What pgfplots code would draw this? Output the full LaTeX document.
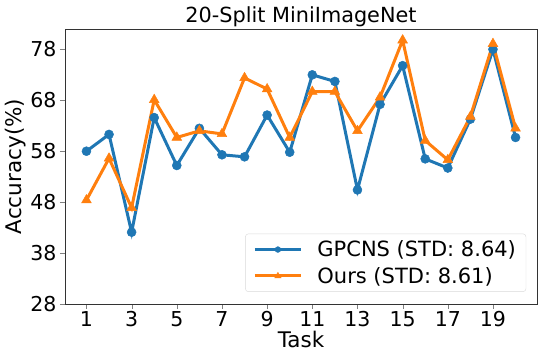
\documentclass[border=0pt]{standalone}
\usepackage{pgfplots}
\pgfplotsset{compat=1.18}
\usepackage{fontspec}
\setmainfont{DejaVu Sans}
\definecolor{mblue}{HTML}{1F77B4}
\definecolor{morange}{HTML}{FF7F0E}
\begin{document}
\begin{tikzpicture}
\path (-65pt,-59pt) rectangle (480pt,304pt);
\begin{axis}[
  scale only axis,
  width=472pt, height=275pt,
  xmin=0.05, xmax=20.95,
  ymin=28, ymax=82,
  xtick={1,3,5,7,9,11,13,15,17,19},
  ytick={28,38,48,58,68,78},
  tick align=outside,
  tick pos=left,
  major tick length=5pt,
  /pgf/number format/assume math mode=true,
  ticklabel style={font=\fontsize{20.5}{24}\selectfont},
  xticklabel style={yshift=1pt},
  xlabel={Task},
  ylabel={Accuracy(\%)},
  label style={font=\fontsize{21.5}{24}\selectfont},
  xlabel style={yshift=3pt},
  ylabel style={yshift=-2pt},
  title={20-Split MiniImageNet},
  title style={font=\fontsize{20.8}{22}\selectfont, yshift=-7pt},
  axis line style={black!80},
  legend style={at={(rel axis cs:0.977,0.044)}, anchor=south east,
    font=\fontsize{21}{24}\selectfont, draw=black!15, rounded corners=3pt,
    inner xsep=8pt, inner ysep=5pt, row sep=5pt,
    /tikz/every odd column/.append style={column sep=13pt}},
  legend cell align=left,
  legend image code/.code={\draw[mark repeat=2, mark phase=2, #1, mark size=0.64*\pgfplotmarksize]
     plot coordinates {(0pt,0pt) (23pt,0pt) (46pt,0pt)};},
]
\addplot[color=mblue, line width=3pt, mark=*, mark size=4.5pt, mark options={solid, line width=0.5pt}] coordinates {
(1,58.0) (2,61.3) (3,42.1) (4,64.6) (5,55.2) (6,62.5) (7,57.3) (8,56.9) (9,65.1) (10,57.8)
(11,73.0) (12,71.7) (13,50.4) (14,67.2) (15,74.8) (16,56.5) (17,54.7) (18,64.3) (19,78.0) (20,60.7)
};
\addlegendentry{GPCNS (STD: 8.64)}
\addplot[color=morange, line width=3pt, mark=triangle*, mark size=5.6pt, mark options={solid, line width=0.5pt}] coordinates {
(1,48.4) (2,56.6) (3,46.9) (4,68.1) (5,60.7) (6,62.0) (7,61.4) (8,72.4) (9,70.2) (10,60.7)
(11,69.7) (12,69.7) (13,62.0) (14,68.6) (15,79.8) (16,60.1) (17,56.3) (18,64.8) (19,79.1) (20,62.5)
};
\addlegendentry{Ours (STD: 8.61)}
\end{axis}
\end{tikzpicture}
\end{document}
